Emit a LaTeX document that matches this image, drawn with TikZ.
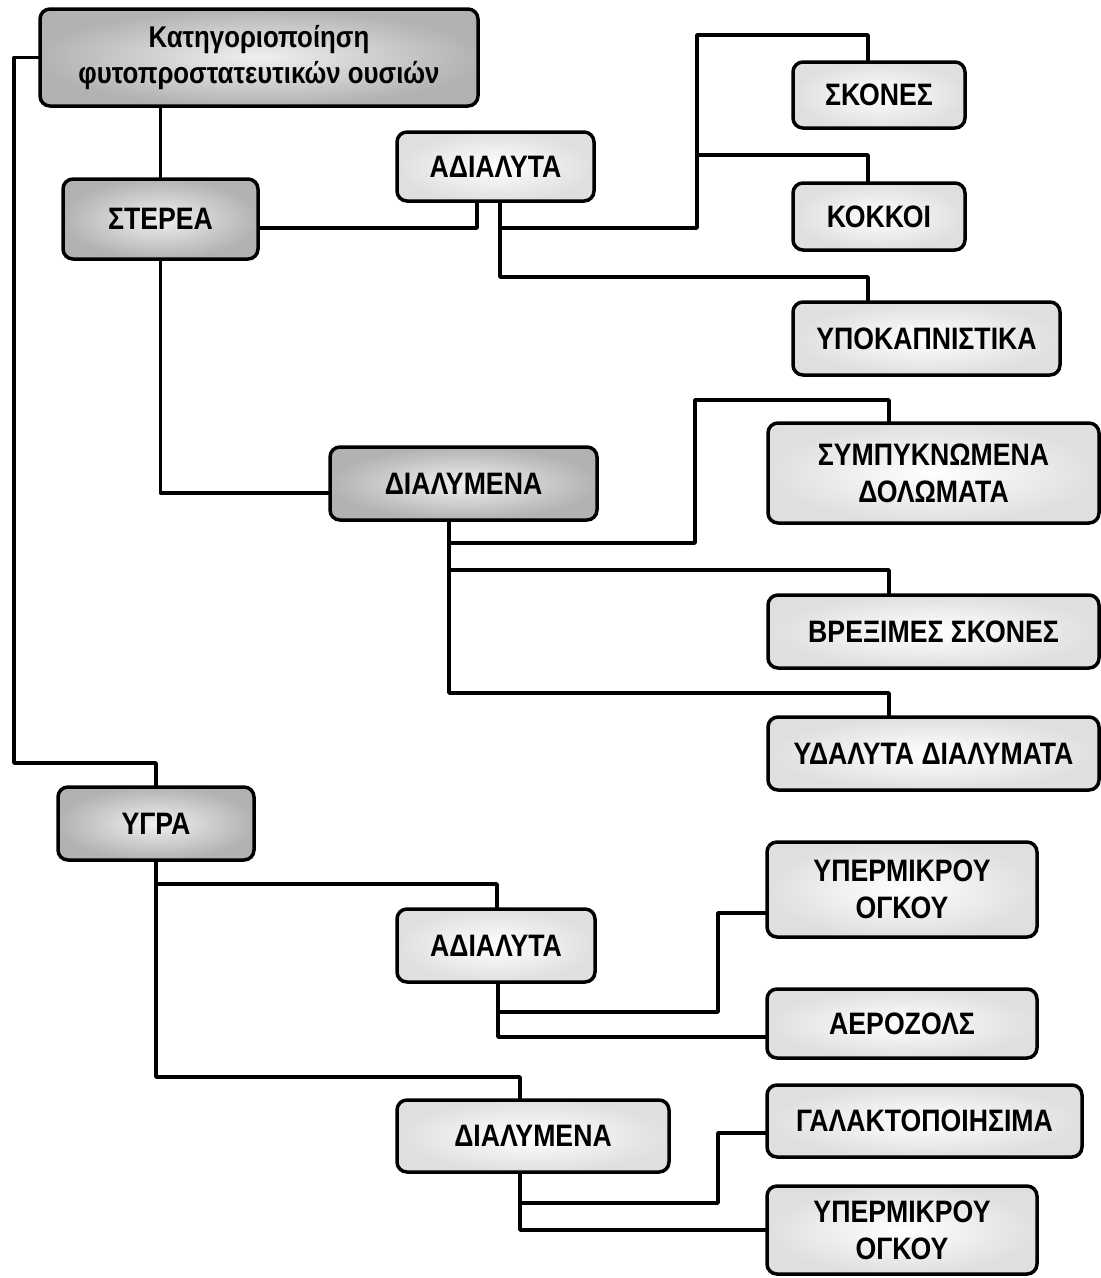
\documentclass[tikz,border=0pt]{standalone}
\usepackage{fontspec}
\setmainfont{Liberation Sans}[FakeStretch=0.86]
\begin{document}
\begin{tikzpicture}[x=1pt,y=-1pt,
  box/.style={draw=black,line width=3.5pt,rounded corners=10pt,align=center,
    inner sep=0pt,font=\fontsize{31}{37}\selectfont\bfseries},
  lightbox/.style={box,inner color=white,outer color=gray!25},
  darkbox/.style={box,inner color=gray!12,outer color=gray!60},
  conn/.style={line width=3.5pt,line join=round,line cap=round}]
\useasboundingbox (0,0) rectangle (1101,1278);
\fill[white] (0,0) rectangle (1101,1278);
% nodes
\node[darkbox,minimum width=438pt,minimum height=97pt,font=\fontsize{30}{36}\selectfont\bfseries] (title) at (259,57.5) {Κατηγοριοποίηση\\φυτοπροστατευτικών ουσιών};
\node[darkbox,minimum width=195pt,minimum height=80pt] (sterea) at (160.5,219) {ΣΤΕΡΕΑ};
\node[lightbox,minimum width=197pt,minimum height=69pt] (adial1) at (495.5,166.5) {ΑΔΙΑΛΥΤΑ};
\node[lightbox,minimum width=172pt,minimum height=66pt] (skones) at (879,95) {ΣΚΟΝΕΣ};
\node[lightbox,minimum width=172pt,minimum height=67pt] (kokkoi) at (879,216.5) {ΚΟΚΚΟΙ};
\node[lightbox,minimum width=267pt,minimum height=73pt] (ypokap) at (926.5,338.5) {ΥΠΟΚΑΠΝΙΣΤΙΚΑ};
\node[darkbox,minimum width=267pt,minimum height=73pt] (dialym1) at (463.5,483.5) {ΔΙΑΛΥΜΕΝΑ};
\node[lightbox,minimum width=331pt,minimum height=100pt] (sympyk) at (933.5,473) {ΣΥΜΠΥΚΝΩΜΕΝΑ\\ΔΟΛΩΜΑΤΑ};
\node[lightbox,minimum width=331pt,minimum height=73pt] (brex) at (933.5,631.5) {ΒΡΕΞΙΜΕΣ ΣΚΟΝΕΣ};
\node[lightbox,minimum width=331pt,minimum height=73pt] (ydal) at (933.5,753.5) {ΥΔΑΛΥΤΑ ΔΙΑΛΥΜΑΤΑ};
\node[darkbox,minimum width=196pt,minimum height=73pt] (ygra) at (156,823.5) {ΥΓΡΑ};
\node[lightbox,minimum width=198pt,minimum height=73pt] (adial2) at (496,945.5) {ΑΔΙΑΛΥΤΑ};
\node[lightbox,minimum width=270pt,minimum height=95pt] (yperm1) at (902,889.5) {ΥΠΕΡΜΙΚΡΟΥ\\ΟΓΚΟΥ};
\node[lightbox,minimum width=270pt,minimum height=69pt] (aerozol) at (902,1023.5) {ΑΕΡΟΖΟΛΣ};
\node[lightbox,minimum width=272pt,minimum height=72pt] (dialym2) at (533,1136) {ΔΙΑΛΥΜΕΝΑ};
\node[lightbox,minimum width=315pt,minimum height=72pt] (galakt) at (924.5,1121) {ΓΑΛΑΚΤΟΠΟΙΗΣΙΜΑ};
\node[lightbox,minimum width=270pt,minimum height=88pt] (yperm2) at (902,1230) {ΥΠΕΡΜΙΚΡΟΥ\\ΟΓΚΟΥ};
% junction coordinates
\coordinate (k1) at (14,763);
\coordinate (c1) at (697,228);
\coordinate (c2) at (697,155);
\coordinate (t1) at (868,35);
\coordinate (t2) at (868,155);
\coordinate (t3) at (868,277);
\coordinate (m1) at (449,543);
\coordinate (m1c) at (695,400);
\coordinate (m1d) at (889,400);
\coordinate (m2) at (449,570);
\coordinate (m2e) at (889,570);
\coordinate (m3) at (889,693);
\coordinate (b1) at (156,884);
\coordinate (b2) at (497,884);
\coordinate (b3) at (520,1077);
\coordinate (e1) at (498,1012);
\coordinate (e2) at (718,913);
\coordinate (f1) at (520,1203);
\coordinate (f2) at (718,1133);
% connectors
\draw[conn] (title.west) -| (k1) -| (ygra.north);
\draw[conn] (title.south -| sterea.north) -- (sterea.north);
\draw[conn] ([yshift=-9pt]sterea.east) -| ([xshift=-18.5pt]adial1.south);
\draw[conn] ([xshift=4.5pt]adial1.south) |- (c1) |- (t1) -- (t1 |- skones.north);
\draw[conn] (c2) -- (t2) -- (t2 |- kokkoi.north);
\draw[conn] ([xshift=4.5pt]adial1.south) |- (t3) -- (t3 |- ypokap.north);
\draw[conn] (sterea.south) |- ([yshift=-9.5pt]dialym1.west);
\draw[conn] ([xshift=-14.5pt]dialym1.south) |- (m3) -- (m3 |- ydal.north);
\draw[conn] (m1) -| (m1c) -- (m1d) -- (m1d |- sympyk.north);
\draw[conn] (m2) -- (m2e) -- (m2e |- brex.north);
\draw[conn] (ygra.south) |- (b3) -- (b3 |- dialym2.north);
\draw[conn] (b1) -- (b2) -- (b2 |- adial2.north);
\draw[conn] ([xshift=2pt]adial2.south) |- ([yshift=-13.5pt]aerozol.west);
\draw[conn] (e1) -| (e2) -- (e2 -| yperm1.west);
\draw[conn] ([xshift=-13pt]dialym2.south) |- (yperm2.west);
\draw[conn] (f1) -| (f2) -- (f2 -| galakt.west);
\end{tikzpicture}
\end{document}
